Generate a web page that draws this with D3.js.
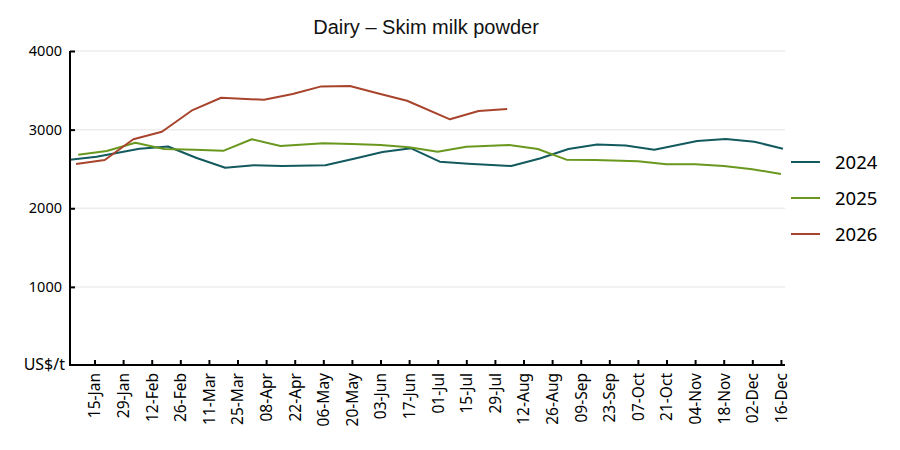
<!DOCTYPE html>
<html>
<head>
<meta charset="utf-8">
<script src="https://cdn.jsdelivr.net/npm/d3@7"></script>
<style>
  body { margin: 0; background: #fff; }
  svg text { font-family: "Noto Sans", sans-serif; }
</style>
</head>
<body>
<svg id="chart" width="900" height="450"></svg>
<script>
// auction dates (month-day) and prices, US$/t
var dates2024 = ['01-02','01-16','02-06','02-20','03-05','03-19','04-02','04-16','05-07','05-21','06-04','06-18',
  '07-02','07-16','08-06','08-20','09-03','09-17','10-01','10-15','11-05','11-19','12-03','12-17'];
var values2024 = [2614,2656,2757,2785,2639,2516,2548,2537,2546,2630,2715,2762,
  2592,2567,2538,2632,2754,2811,2798,2745,2855,2881,2846,2757];

var dates2025 = ['01-07','01-21','02-04','02-18','03-04','03-18','04-01','04-15','05-06','05-20','06-03','06-17',
  '07-01','07-15','08-05','08-19','09-02','09-16','10-07','10-21','11-04','11-18','12-02','12-16'];
var values2025 = [2681,2728,2834,2753,2745,2730,2877,2792,2826,2817,2805,2775,
  2719,2783,2804,2754,2618,2614,2597,2559,2559,2538,2496,2436];

var dates2026 = ['01-06','01-20','02-03','02-17','03-03','03-17','04-07','04-21','05-05','05-19','06-02','06-16',
  '07-07','07-21','08-04'];
var values2026 = [2563,2614,2877,2973,3249,3405,3380,3452,3550,3554,3459,3367,3131,3236,3262];

var seriesNames = ['2024','2025','2026'];
var seriesColors = ['#135a5e','#6a981f','#a8442c'];

var tickDates = ['01-15','01-29','02-12','02-26','03-11','03-25','04-08','04-22','05-06','05-20','06-03','06-17',
  '07-01','07-15','07-29','08-12','08-26','09-09','09-23','10-07','10-21','11-04','11-18','12-02','12-16'];
var yTicks = [1000,2000,3000,4000];

// every date goes onto one leap year so the years line up
var parseDay = d3.timeParse('%Y-%m-%d');
var toDay = function (md) { return parseDay('2024-' + md); };

var margin = { left: 70, right: 115, top: 51, bottom: 85 };
var width = 900, height = 450;

var svg = d3.select('#chart');

var x = d3.scaleTime()
  .domain([toDay('01-03'), toDay('12-18')])
  .range([margin.left, width - margin.right]);

var y = d3.scaleLinear()
  .domain([0, 4000])
  .range([height - margin.bottom + 0.5, margin.top]);

// clip to the plot area
svg.append('defs').append('clipPath').attr('id','plot-clip')
  .append('rect')
  .attr('x', margin.left).attr('y', margin.top - 5)
  .attr('width', width - margin.right - margin.left + 2)
  .attr('height', height - margin.bottom - margin.top + 10);

// gridlines
svg.append('g').selectAll('line').data(yTicks).enter().append('line')
  .attr('x1', margin.left).attr('x2', width - margin.right)
  .attr('y1', function (d) { return y(d); })
  .attr('y2', function (d) { return y(d); })
  .attr('stroke','#ececec').attr('stroke-width',1.5);

// title
svg.append('text')
  .attr('x', 426).attr('y', 34)
  .attr('text-anchor','middle')
  .style('font-family','"Liberation Sans", Arial, sans-serif')
  .style('font-size','20px')
  .attr('fill','#111')
  .text('Dairy \u2013 Skim milk powder');

// lines
var series = [
  { name: seriesNames[0], dates: dates2024, values: values2024 },
  { name: seriesNames[1], dates: dates2025, values: values2025 },
  { name: seriesNames[2], dates: dates2026, values: values2026 }
];

var line = d3.line()
  .x(function (d) { return x(d.date); })
  .y(function (d) { return y(d.value); });

svg.append('g').attr('clip-path','url(#plot-clip)')
  .selectAll('path').data(series).enter().append('path')
  .attr('d', function (s) {
    return line(s.dates.map(function (md, i) { return { date: toDay(md), value: s.values[i] }; }));
  })
  .attr('fill','none')
  .attr('stroke', function (s, i) { return seriesColors[i]; })
  .attr('stroke-width', 2)
  .attr('stroke-linejoin','round');

// x axis, ticks pointing up into the plot
var xAxis = svg.append('g')
  .attr('transform','translate(0,' + (height - margin.bottom) + ')')
  .call(d3.axisBottom(x)
    .tickValues(tickDates.map(toDay))
    .tickFormat(d3.timeFormat('%d-%b'))
    .tickSizeInner(-5).tickSizeOuter(0));
xAxis.select('.domain').attr('stroke','#000').attr('stroke-width',2)
  .attr('d','M' + margin.left + ',0H' + (width - margin.right));
xAxis.selectAll('.tick line').attr('stroke','#000').attr('stroke-width',2);
xAxis.selectAll('.tick text')
  .attr('transform','rotate(-90)')
  .attr('x', -8).attr('y', 0).attr('dy','0.35em')
  .attr('text-anchor','end')
  .style('font-size','15.5px')
  .attr('fill','#000');

// y axis, ticks pointing right
var yAxis = svg.append('g')
  .attr('transform','translate(' + margin.left + ',0)')
  .call(d3.axisLeft(y).tickValues(yTicks).tickFormat(d3.format('d'))
    .tickSizeInner(-5).tickSizeOuter(0));
yAxis.select('.domain').attr('stroke','#000').attr('stroke-width',2)
  .attr('d','M0,' + margin.top + 'V' + (height - margin.bottom + 1));
yAxis.selectAll('.tick line').attr('stroke','#000').attr('stroke-width',2);
yAxis.selectAll('.tick text').attr('x', -8)
  .style('font-size','14.5px').attr('fill','#000');

// unit label at the origin
svg.append('text')
  .attr('x', margin.left - 5).attr('y', y(0)).attr('dy','0.3em')
  .attr('text-anchor','end')
  .style('font-size','16px')
  .text('US$/t');

// legend
var legend = svg.append('g').selectAll('g').data(series).enter().append('g')
  .attr('transform', function (d, i) { return 'translate(791,' + (162 + i * 36) + ')'; });
legend.append('line')
  .attr('x1', 0).attr('x2', 29)
  .attr('stroke', function (d, i) { return seriesColors[i]; })
  .attr('stroke-width', 2);
legend.append('text')
  .attr('x', 44).attr('dy','0.36em')
  .style('font-size','18.5px')
  .attr('fill','#000')
  .text(function (d) { return d.name; });
</script>
</body>
</html>
